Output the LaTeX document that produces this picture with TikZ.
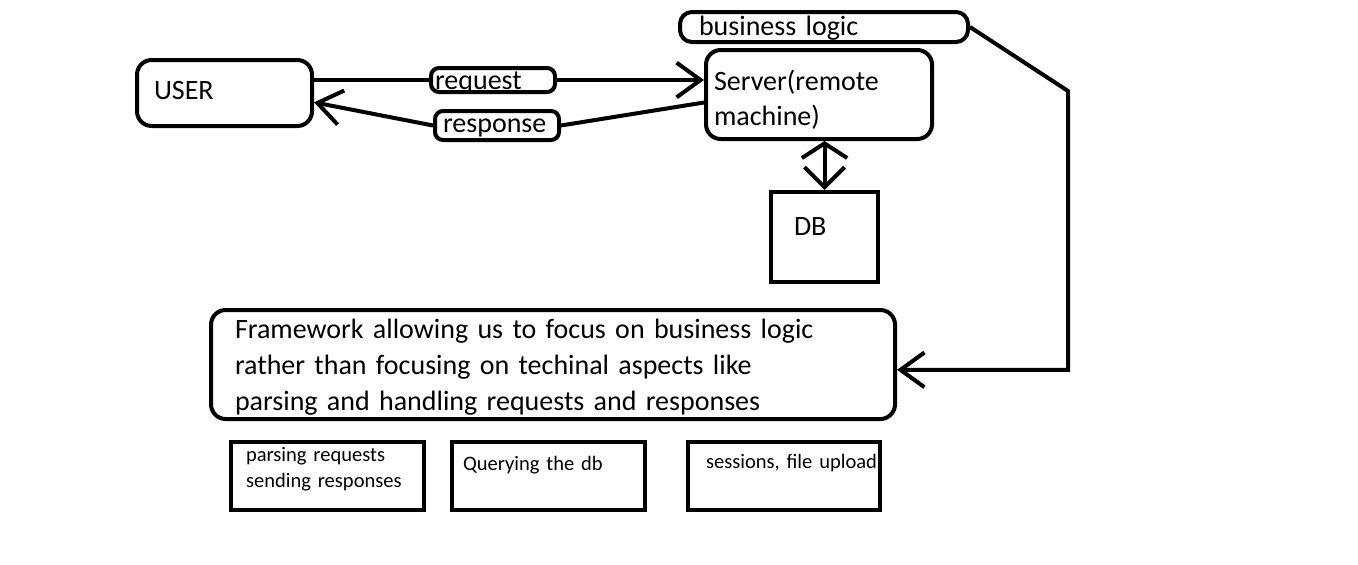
\documentclass[tikz,border=0pt]{standalone}
\usepackage{fontspec}
\setmainfont{Carlito}
\usetikzlibrary{arrows.meta}

\newcommand\bigsize{\fontsize{21pt}{26.25pt}\selectfont}
\newcommand\framesize{\fontsize{21pt}{27pt}\selectfont}
\newcommand\smallsize{\fontsize{15.4pt}{19.5pt}\selectfont}

\tikzset{
  box/.style={draw, line width=3pt, anchor=north west, inner ysep=0pt, align=left},
  rbox/.style={box, rounded corners=11pt},
  tag/.style={box, rounded corners=6pt},
  bigfont/.style={font=\bigsize},
  smallfont/.style={font=\smallsize},
  link/.style={line width=3pt},
}

\begin{document}
\begin{tikzpicture}[x=0.75pt, y=-0.75pt, >={Straight Barb[length=18pt,width=26pt]}]

    \useasboundingbox (0,0) rectangle (1358,564);

    % top row
    \node[rbox, bigfont, inner xsep=12.75pt, text width=105.75pt, text height=29.25pt, text depth=20.25pt] (user) at (135,58) {USER};
    \node[rbox, bigfont, inner xsep=6pt, text width=157.5pt, text height=30pt, text depth=36.75pt] (server) at (704,48) {Server(remote\\machine)};
    \node[tag, bigfont, inner xsep=3pt, text width=87pt, text height=15.75pt, text depth=2.25pt] (req) at (429,66) {request};
    \node[tag, bigfont, inner xsep=6pt, text width=81pt, text height=15.75pt, text depth=6pt] (resp) at (433,109) {response};
    \node[box, rounded corners=9pt, bigfont, inner xsep=14.25pt, text width=187.5pt, text height=17.25pt, text depth=5.25pt] (biz) at (678,10) {business logic};
    \node[box, bigfont, inner xsep=17.25pt, text width=45.75pt, text height=32.25pt, text depth=35.25pt] (db) at (769,190) {DB};

    % framework
    \node[rbox, font=\framesize, inner xsep=18pt, text width=477pt, text height=21pt, text depth=60.75pt] (frame) at (209,308)
        {Framework allowing us to focus on business logic\\rather than focusing on techinal aspects like\\parsing and handling requests and responses};

    % what it gives us
    \node[box, smallfont, inner xsep=11.25pt, text width=122.25pt, text height=14.25pt, text depth=36.75pt] (parse) at (229,440) {parsing requests\\sending responses};
    \node[box, smallfont, inner xsep=8.25pt, text width=128.25pt, text height=21pt, text depth=30pt] (query) at (450,440) {Querying the db};
    \node[box, smallfont, inner xsep=13.5pt, text width=117pt, text height=19.5pt, text depth=31.5pt] (extra) at (686,440) {\mbox{sessions, file upload}};

    % connectors
    \draw[link] (req.west -| user.east) -- (req.west);
    \draw[link, ->] (req.east) -- (req.east -| server.west);
    \draw[link] ([yshift=-6pt]server.west) -- (resp.east);
    \draw[link, ->] (resp.west) -- ([yshift=-7pt]user.east);
    \draw[link, {Straight Barb[length=11pt,width=34pt]}-{Straight Barb[length=15pt,width=30pt]}] (db.north |- server.south) -- (db.north);

    \coordinate (bend) at (1068,91);
    \coordinate (fr) at ([yshift=-4pt]frame.east);
    \draw[link, ->] (biz.east) -- (bend) -- (bend |- fr) -- (fr);

\end{tikzpicture}
\end{document}
